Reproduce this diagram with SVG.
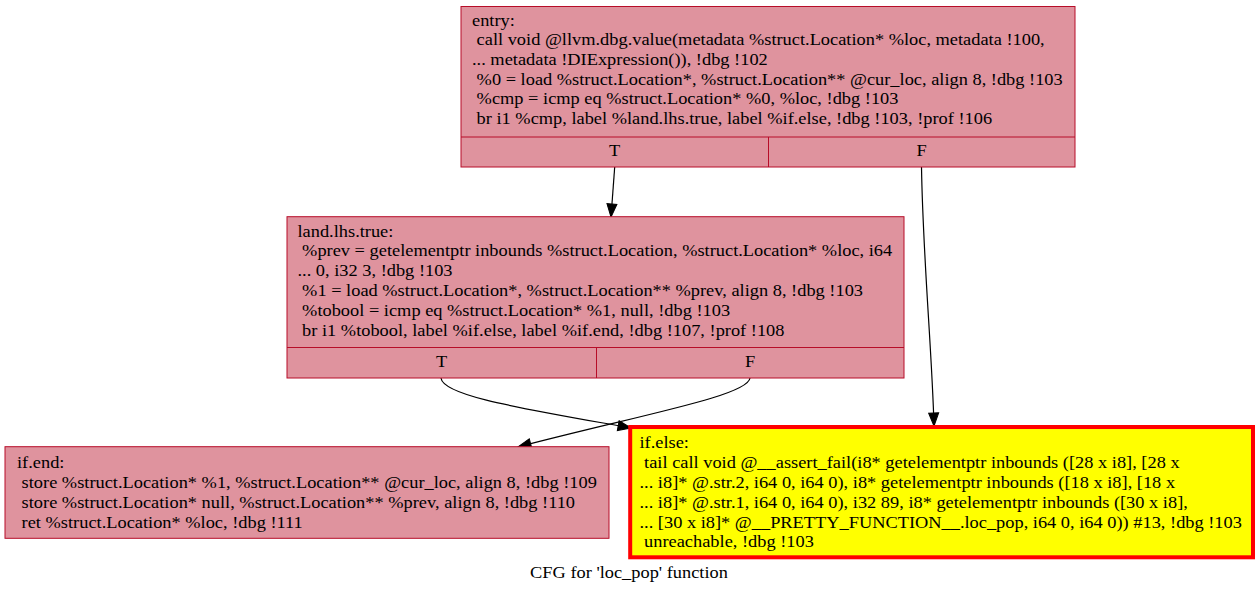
<svg xmlns="http://www.w3.org/2000/svg" width="1259" height="595" viewBox="0 0 1259 595">
<style>
  .blk { fill: #df939e; stroke: #b70d28; stroke-width: 1; }
  .sep { stroke: #b70d28; stroke-width: 1; fill: none; }
  .err { fill: #ffff00; stroke: #ff0000; stroke-width: 4; }
  text { font-family: "Liberation Serif", "Times New Roman", serif; font-size: 16.4px; fill: #000; white-space: pre; }
  .mid { text-anchor: middle; }
  .edge { fill: none; stroke: #000; stroke-width: 1.2; }
</style>
<defs>
  <marker id="arr" markerUnits="userSpaceOnUse" markerWidth="15" markerHeight="12" refX="13" refY="5" orient="auto" overflow="visible">
    <path d="M0,0 L13,5 L0,10 z" fill="#000" stroke="#000" stroke-width="1"/>
  </marker>
</defs>
<rect width="1259" height="595" fill="#fff"/>

<g id="connectors">
  <path class="edge" d="M614.7,167 L611,217" marker-end="url(#arr)"/>
  <path class="edge" d="M921.5,167 C923,260 932,350 934,426" marker-end="url(#arr)"/>
  <path class="edge" d="M441,378 C443,396 520,408 631,428" marker-end="url(#arr)"/>
  <path class="edge" d="M750,378 C748,396 640,415 518,447" marker-end="url(#arr)"/>
</g>

<g id="entry">
  <rect class="blk" x="461" y="6.5" width="614" height="160.5"/>
  <path class="sep" d="M461,137 H1075 M768.5,137 V167"/>
  <g transform="translate(472,0) scale(1.12,1)">
    <text x="0" y="25.7">entry:</text>
    <text x="0" y="45.4"> call void @llvm.dbg.value(metadata %struct.Location* %loc, metadata !100,</text>
    <text x="0" y="65.1">... metadata !DIExpression()), !dbg !102</text>
    <text x="0" y="84.8"> %0 = load %struct.Location*, %struct.Location** @cur_loc, align 8, !dbg !103</text>
    <text x="0" y="104.5"> %cmp = icmp eq %struct.Location* %0, %loc, !dbg !103</text>
    <text x="0" y="124.2"> br i1 %cmp, label %land.lhs.true, label %if.else, !dbg !103, !prof !106</text>
  </g>
  <g transform="translate(614.5,0) scale(1.12,1)"><text class="mid" x="0" y="156.5">T</text></g>
  <g transform="translate(921.5,0) scale(1.12,1)"><text class="mid" x="0" y="156.5">F</text></g>
</g>

<g id="land.lhs.true">
  <rect class="blk" x="287" y="216.7" width="617" height="161.3"/>
  <path class="sep" d="M287,347.5 H904 M596.5,347.5 V378"/>
  <g transform="translate(297.5,0) scale(1.12,1)">
    <text x="0" y="236.7">land.lhs.true:</text>
    <text x="0" y="256.5"> %prev = getelementptr inbounds %struct.Location, %struct.Location* %loc, i64</text>
    <text x="0" y="276.3">... 0, i32 3, !dbg !103</text>
    <text x="0" y="296.1"> %1 = load %struct.Location*, %struct.Location** %prev, align 8, !dbg !103</text>
    <text x="0" y="315.9"> %tobool = icmp eq %struct.Location* %1, null, !dbg !103</text>
    <text x="0" y="335.7"> br i1 %tobool, label %if.else, label %if.end, !dbg !107, !prof !108</text>
  </g>
  <g transform="translate(441.5,0) scale(1.12,1)"><text class="mid" x="0" y="366.7">T</text></g>
  <g transform="translate(750,0) scale(1.12,1)"><text class="mid" x="0" y="366.7">F</text></g>
</g>

<g id="if.end">
  <rect class="blk" x="5" y="446.7" width="604" height="91.6"/>
  <g transform="translate(17,0) scale(1.12,1)">
    <text x="0" y="468.3">if.end:</text>
    <text x="0" y="488.1"> store %struct.Location* %1, %struct.Location** @cur_loc, align 8, !dbg !109</text>
    <text x="0" y="507.9"> store %struct.Location* null, %struct.Location** %prev, align 8, !dbg !110</text>
    <text x="0" y="527.7"> ret %struct.Location* %loc, !dbg !111</text>
  </g>
</g>

<g id="if.else">
  <rect class="err" x="630.2" y="427" width="622.8" height="130.3"/>
  <g transform="translate(639.5,0) scale(1.12,1)">
    <text x="0" y="448.5">if.else:</text>
    <text x="0" y="468.3"> tail call void @__assert_fail(i8* getelementptr inbounds ([28 x i8], [28 x</text>
    <text x="0" y="488.1">... i8]* @.str.2, i64 0, i64 0), i8* getelementptr inbounds ([18 x i8], [18 x</text>
    <text x="0" y="507.9">... i8]* @.str.1, i64 0, i64 0), i32 89, i8* getelementptr inbounds ([30 x i8],</text>
    <text x="0" y="527.7">... [30 x i8]* @__PRETTY_FUNCTION__.loc_pop, i64 0, i64 0)) #13, !dbg !103</text>
    <text x="0" y="547.5"> unreachable, !dbg !103</text>
  </g>
</g>

<g id="caption" transform="translate(629,0) scale(1.12,1)">
  <text class="mid" x="0" y="578.3">CFG for 'loc_pop' function</text>
</g>
</svg>
